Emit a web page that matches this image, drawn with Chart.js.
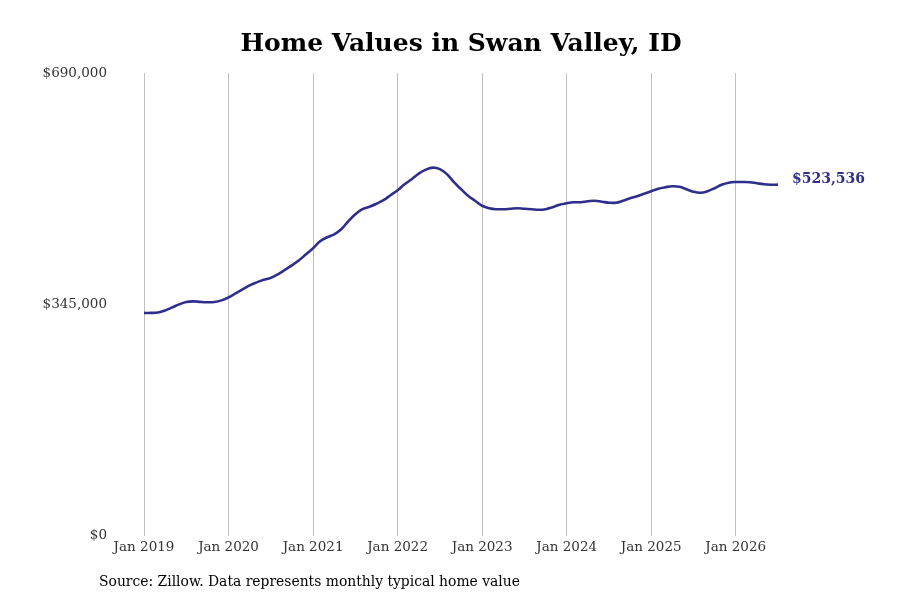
<!DOCTYPE html>
<html>
<head>
<meta charset="utf-8">
<script src="https://cdn.jsdelivr.net/npm/chart.js@4.4.1/dist/chart.umd.min.js"></script>
<style>
  html, body { margin: 0; padding: 0; background: #fff; }
  #wrap { position: relative; width: 900px; height: 600px; }
</style>
</head>
<body>
<div id="wrap"><canvas id="homeChart" width="900" height="600"></canvas></div>
<script>
// Typical home value, monthly, Jan 2019 - Jul 2026
const homeValues = [
    332300, 332300, 333000, 336000, 340500, 345000, 348700, 349500, 348700, 348300, 348700, 351000,
    355500, 361400, 367400, 373400, 377800, 381600, 384600, 389800, 396500, 403200, 410700, 419700,
    428600, 439100, 445100, 449500, 457000, 468900, 479400, 486900, 490600, 495100, 500300, 507800,
    515300, 524200, 531700, 539900, 545900, 548900, 546600, 539200, 527200, 516800, 507000, 499600,
    492100, 488400, 486900, 486900, 487600, 488400, 487600, 486900, 486100, 486900, 489900, 493600,
    495800, 497300, 497300, 498800, 499600, 498100, 496600, 496600, 499600, 503300, 506300, 510000,
    513800, 517500, 519700, 521200, 520500, 516800, 513000, 511500, 513800, 518200, 523500, 526500,
    527500, 527500, 527200, 525700, 524200, 523500, 523536
];
const xTickLabels = ['Jan 2019', 'Jan 2020', 'Jan 2021', 'Jan 2022', 'Jan 2023', 'Jan 2024', 'Jan 2025', 'Jan 2026'];
const yTickValues = [0, 345000, 690000];

const lineColor = '#2e2e8c';
const serif = '"DejaVu Serif", serif';

function money(v) {
    return '$' + Number(v).toLocaleString('en-US');
}

// texte de fin de ligne + source
const extrasPlugin = {
    id: 'extras',
    afterDraw(chart) {
        const ctx = chart.ctx;
        const meta = chart.getDatasetMeta(0);
        const last = meta.data[meta.data.length - 1];
        ctx.save();
        ctx.font = 'bold 14px ' + serif;
        ctx.fillStyle = lineColor;
        ctx.textBaseline = 'middle';
        ctx.textAlign = 'left';
        ctx.fillText(money(homeValues[homeValues.length - 1]), last.x + 14, last.y - 5);

        ctx.font = '13.9px ' + serif;
        ctx.fillStyle = '#000';
        ctx.fillText('Source: Zillow. Data represents monthly typical home value', 99, 582);
        ctx.restore();
    }
};

new Chart(document.getElementById('homeChart'), {
    type: 'line',
    data: {
        datasets: [{
            data: homeValues.map((v, i) => ({ x: i, y: v })),
            borderColor: lineColor,
            borderWidth: 2.6,
            pointRadius: 0,
            tension: 0.4,
            fill: false
        }]
    },
    options: {
        responsive: false,
        animation: false,
        layout: { padding: { left: 42, right: 122, top: 0, bottom: 40 } },
        plugins: {
            legend: { display: false },
            tooltip: { enabled: false },
            title: {
                display: true,
                text: 'Home Values in Swan Valley, ID',
                fullSize: false,
                color: '#000',
                font: { family: serif, size: 25, weight: 'bold' },
                padding: { top: 29, bottom: 14 }
            }
        },
        scales: {
            x: {
                type: 'linear',
                min: 0,
                max: homeValues.length - 1,
                afterBuildTicks: axis => { axis.ticks = xTickLabels.map((_, i) => ({ value: i * 12 })); },
                ticks: {
                    callback: (v, i) => xTickLabels[i],
                    color: '#333',
                    font: { family: serif, size: 13.5 },
                    padding: 4,
                    maxRotation: 0,
                    autoSkip: false
                },
                grid: { color: '#c0c0c0', lineWidth: 1, drawTicks: false, tickLength: 0 },
                border: { display: false }
            },
            y: {
                min: 0,
                max: 690000,
                afterBuildTicks: axis => { axis.ticks = yTickValues.map(v => ({ value: v })); },
                afterFit: axis => { axis.width = 102; },
                ticks: {
                    callback: v => money(v),
                    color: '#333',
                    font: { family: serif, size: 13.5 },
                    padding: 37
                },
                grid: { display: false, drawTicks: false },
                border: { display: false }
            }
        }
    },
    plugins: [extrasPlugin]
});
</script>
</body>
</html>
